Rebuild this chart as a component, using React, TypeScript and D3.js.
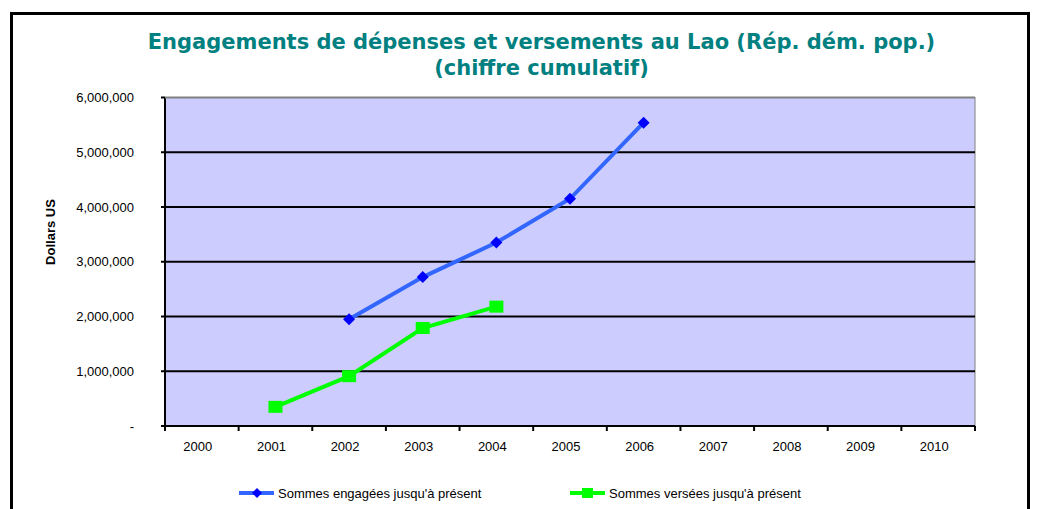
import React from "react";
import * as d3 from "d3";

const years = ["2000","2001","2002","2003","2004","2005","2006","2007","2008","2009","2010"];
const engagedYears = ["2002","2003","2004","2005","2006"];
const engagedValues = [1950000, 2720000, 3350000, 4150000, 5540000];
const disbursedYears = ["2001","2002","2003","2004"];
const disbursedValues = [350000, 910000, 1790000, 2180000];
const yTicks = [0, 1000000, 2000000, 3000000, 4000000, 5000000, 6000000];
const titleLines = ["Engagements de dépenses et versements au Lao (Rép. dém. pop.)", "(chiffre cumulatif)"];
const legendLabels = ["Sommes engagées jusqu'à présent", "Sommes versées jusqu'à présent"];

export default function App() {
  const W = 1038, H = 509;
  const left = 165, right = 975, top = 97.5, bottom = 426;
  const x = d3.scaleBand<string>().domain(years).range([left, right]).padding(0);
  const y = d3.scaleLinear().domain([0, 6000000]).range([bottom, top]);
  const cx = (yr: string) => (x(yr) as number) + x.bandwidth() / 2;
  const fmt = (v: number) => (v === 0 ? "-" : d3.format(",")(v));

  const engaged = engagedYears.map((yr, i) => [cx(yr), y(engagedValues[i])] as [number, number]);
  const disbursed = disbursedYears.map((yr, i) => [cx(yr), y(disbursedValues[i])] as [number, number]);
  const line = d3.line();
  const blueLine = "#3366FF";
  const blueMarker = "#0000FF";
  const green = "#00FF00";
  const font = "'Liberation Sans', Arial, sans-serif";
  const diamond = (px: number, py: number, r: number) => `M${px},${py - r}L${px + r},${py}L${px},${py + r}L${px - r},${py}Z`;

  return (
    <svg width={W} height={H} style={{ position: "absolute", left: 0, top: 0, background: "#fff" }}>
      <rect x={0} y={0} width={W} height={H} fill="#fff" />
      <rect x={11.5} y={13.5} width={1017} height={510} fill="none" stroke="#000" strokeWidth={3} />
      <g fontFamily="'DejaVu Sans', Verdana, sans-serif" fontWeight="bold" fill="#008080" textAnchor="middle" fontSize={21}>
        <text x={541.5} y={49}>{titleLines[0]}</text>
        <text x={541.5} y={75}>{titleLines[1]}</text>
      </g>
      <rect x={left} y={top} width={right - left} height={bottom - top} fill="#CCCCFF" stroke="#808080" strokeWidth={1} />
      {yTicks.filter((t) => t > 0 && t < 6000000).map((t) => (
        <line key={t} x1={left} x2={right} y1={y(t)} y2={y(t)} stroke="#000" strokeWidth={2} />
      ))}
      <line x1={left} x2={left} y1={top} y2={bottom + 1} stroke="#000" strokeWidth={2} />
      <line x1={left} x2={right} y1={bottom} y2={bottom} stroke="#000" strokeWidth={2} />
      <line x1={left} x2={right} y1={top} y2={top} stroke="#808080" strokeWidth={2} />
      {yTicks.map((t) => (
        <g key={t}>
          <line x1={left - 4} x2={left} y1={y(t)} y2={y(t)} stroke="#000" strokeWidth={2} />
          <text x={134} y={y(t)} dy="0.35em" textAnchor="end" fontFamily={font} fontSize={13} fill="#000">{fmt(t)}</text>
        </g>
      ))}
      {years.map((yr) => (
        <g key={yr}>
          <line x1={x(yr) as number} x2={x(yr) as number} y1={bottom} y2={bottom + 5} stroke="#000" strokeWidth={2} />
          <text x={cx(yr) - 4} y={451} textAnchor="middle" fontFamily={font} fontSize={13} fill="#000">{yr}</text>
        </g>
      ))}
      <line x1={right} x2={right} y1={bottom} y2={bottom + 5} stroke="#000" strokeWidth={2} />
      <text transform={`translate(55,232) rotate(-90)`} textAnchor="middle" fontFamily={font} fontWeight="bold" fontSize={13} fill="#000">Dollars US</text>

      <path d={line(engaged) as string} fill="none" stroke={blueLine} strokeWidth={4} />
      {engaged.map(([px, py], i) => (
        <path key={i} d={diamond(px, py, 6)} fill={blueMarker} />
      ))}
      <path d={line(disbursed) as string} fill="none" stroke={green} strokeWidth={4} />
      {disbursed.map(([px, py], i) => (
        <rect key={i} x={px - 7} y={py - 6} width={14} height={12} fill={green} />
      ))}

      <g fontFamily={font} fontSize={13} fill="#000">
        <line x1={239} x2={274} y1={493} y2={493} stroke={blueLine} strokeWidth={4} />
        <path d={diamond(257, 493, 5)} fill={blueMarker} />
        <text x={278} y={493} dy="0.35em">{legendLabels[0]}</text>
        <line x1={570} x2={605} y1={493} y2={493} stroke={green} strokeWidth={4} />
        <rect x={582} y={488} width={11} height={10} fill={green} />
        <text x={609} y={493} dy="0.35em">{legendLabels[1]}</text>
      </g>
    </svg>
  );
}
